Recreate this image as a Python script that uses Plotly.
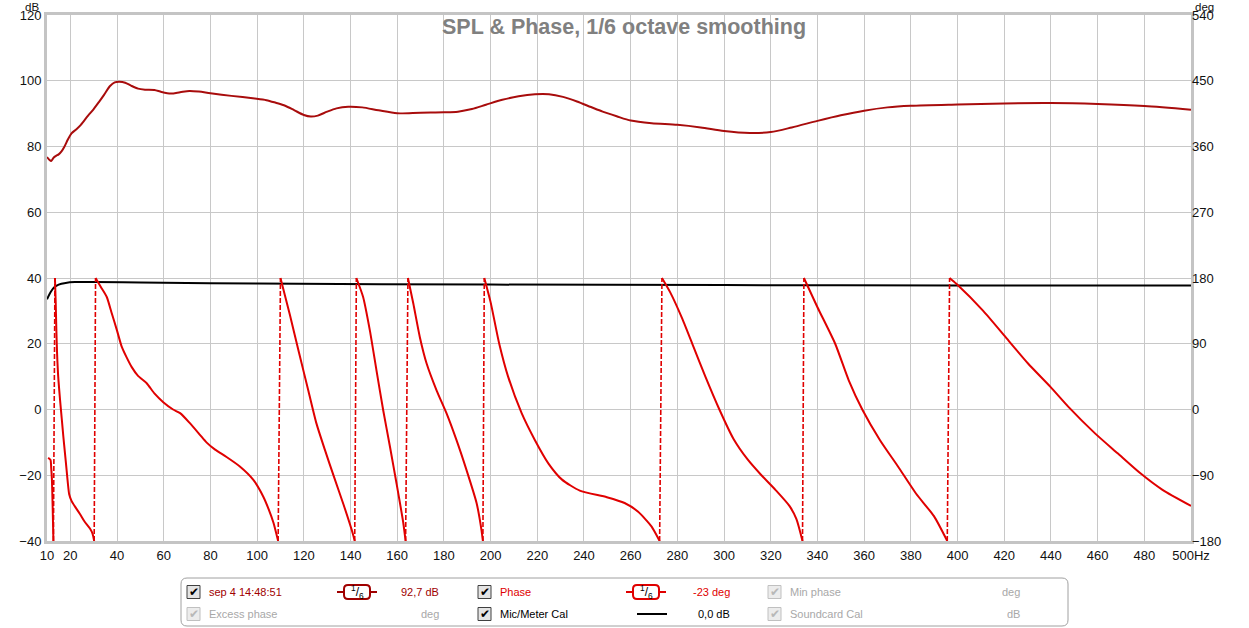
import plotly.graph_objects as go

# ---------------- data ----------------
spl_freq = [10, 11, 11.8, 12.8, 14, 15, 16.3, 17.5, 19, 20.5, 22.5, 24.5, 27.5, 30, 32.3, 34.5, 37, 39, 41, 43.5,
            46, 49, 52, 56, 59, 63, 67, 71, 75, 80, 89, 99, 104, 108, 112, 116, 120, 123, 126, 130, 134, 139,
            145, 152, 160, 170, 180, 186, 192, 198, 205, 212, 219, 225, 231, 237, 243, 248, 254, 260, 269, 280,
            290, 300, 311, 320, 329, 340, 350, 360, 370, 380, 400, 420, 440, 460, 480, 500]
spl_db = [76.8, 76.0, 75.6, 76.6, 77.2, 77.6, 78.6, 80.0, 82.2, 84.0, 85.2, 86.6, 89.3, 91.4, 93.6, 95.8, 98.4, 99.5,
          99.7, 99.4, 98.5, 97.6, 97.3, 97.2, 96.6, 96.1, 96.5, 96.9, 96.7, 96.2, 95.4, 94.6, 94.1, 93.3, 92.4, 91.0,
          89.6, 89.1, 89.4, 90.6, 91.6, 92.1, 91.9, 91.0, 90.1, 90.3, 90.4, 90.6, 91.4, 92.7, 94.2, 95.3, 95.9, 95.9,
          95.1, 93.7, 92.0, 90.6, 89.2, 87.9, 87.1, 86.6, 85.8, 84.7, 84.1, 84.4, 85.8, 87.8, 89.5, 90.9, 91.9, 92.4,
          92.8, 93.1, 93.2, 92.9, 92.3, 91.2]

# phase (deg), one list per wrapped segment
phase_seg_freq = [
    [10.5, 11.5, 11.8, 12.1, 12.4, 12.75],
    [13.4, 13.7, 14.0, 14.3, 14.8, 15.6, 16.3, 17.0, 17.7, 18.4, 19.0, 19.5, 20.5, 22.0, 24.1, 26.0, 28.4, 29.5, 30.2],
    [30.8, 33, 35.6, 37.8, 39.9, 42, 44, 46.3, 49, 52.7, 56, 59.8, 64, 67, 71, 75.6, 78.3, 82, 86.9, 92.6, 98.3,
     102.6, 105, 107, 109],
    [110, 114, 118, 122, 125.4, 129, 133, 137, 141, 141.8],
    [142.5, 145.4, 148.3, 151.1, 154, 156.9, 159.7, 162.6, 163.6],
    [164.6, 166.9, 169.7, 172.6, 176.9, 181.1, 185.4, 189.7, 194, 196.1, 196.7],
    [197.3, 200, 203.7, 207.5, 213.3, 219, 224.8, 230.6, 238.2, 249.8, 257.4, 263.2, 268.9, 272.4],
    [273.4, 277, 282, 287, 292, 298, 304, 310, 316, 322, 328, 331, 333.6],
    [334.2, 340, 347.6, 353.4, 359.2, 366.8, 374.5, 382.2, 389.9, 395.6],
    [396.6, 399.5, 411, 420.6, 430.2, 439.8, 447.4, 459, 468.6, 478.2, 487.8, 500],
]
phase_seg_deg = [
    [-66, -69, -80, -95, -130, -180],
    [180, 150, 110, 78, 45, 13, -12, -37, -60, -83, -103, -116, -125, -133, -143, -153, -163, -170, -180],
    [180, 168, 154, 131, 109, 86, 72, 58, 46, 36, 22, 10, 0, -5, -18, -35, -45, -55, -65, -78, -96,
     -119, -137, -155, -180],
    [180, 130, 77, 25, -19, -55, -93, -130, -170, -180],
    [180, 154, 108, 54, -1, -51, -101, -155, -180],
    [180, 145, 99, 63, 26, -5, -42, -83, -128, -165, -180],
    [180, 147, 90, 45, -5, -42, -74, -96, -111, -120, -128, -140, -160, -180],
    [180, 160, 125, 85, 45, 0, -40, -68, -90, -110, -132, -150, -180],
    [180, 140, 90, 40, 0, -42, -78, -115, -146, -180],
    [180, 172, 135, 99, 63, 31, 4, -33, -60, -87, -110, -132],
]

mic_freq = [10, 11, 12, 13, 15, 18, 22, 30, 50, 100, 200, 300, 400, 500]
mic_db = [33.5, 35.0, 36.2, 37.1, 38.0, 38.5, 38.75, 38.8, 38.6, 38.3, 38.0, 37.85, 37.75, 37.7]

x_ticks = [10, 20, 40, 60, 80, 100, 120, 140, 160, 180, 200, 220, 240, 260, 280, 300, 320, 340, 360, 380,
           400, 420, 440, 460, 480, 500]
x_ticktext = [str(v) for v in x_ticks[:-1]] + ["500Hz"]
db_ticks = [-40, -20, 0, 20, 40, 60, 80, 100, 120]
deg_ticks = [-180, -90, 0, 90, 180, 270, 360, 450, 540]

title_text = "SPL & Phase, 1/6 octave smoothing"

# ---------------- colours / layout constants ----------------
SPL_COL = "#a80c0c"
PH_COL = "#e00000"
GRID = "#c8c8c8"
FRAME = "#c4c4c4"
FONT = "Liberation Sans, Arial, sans-serif"

W, H = 1249, 628
ML, MT = 47, 15
PLOT_R, PLOT_B = 1191, 541
MR, MB = W - PLOT_R, H - PLOT_B
PW, PH = W - ML - MR, H - MT - MB


def px(x):
    return (x - ML) / PW


def py(y):
    return (H - MB - y) / PH


fig = go.Figure()

# phase segments + wrap lines
ph_x, ph_y = [], []
for f, d in zip(phase_seg_freq, phase_seg_deg):
    ph_x += f + [None]
    ph_y += d + [None]
wrap_x, wrap_y = [], []
for i in range(len(phase_seg_freq) - 1):
    wrap_x += [phase_seg_freq[i][-1], phase_seg_freq[i + 1][0], None]
    wrap_y += [phase_seg_deg[i][-1], phase_seg_deg[i + 1][0], None]

fig.add_trace(go.Scatter(x=wrap_x, y=wrap_y, mode="lines", yaxis="y2",
                         line=dict(color=PH_COL, width=1.6, dash="5px,2px"), hoverinfo="skip"))
fig.add_trace(go.Scatter(x=mic_freq, y=mic_db, mode="lines", yaxis="y",
                         line=dict(color="black", width=2, shape="spline", smoothing=0.8)))
fig.add_trace(go.Scatter(x=ph_x, y=ph_y, mode="lines", yaxis="y2",
                         line=dict(color=PH_COL, width=2, shape="spline", smoothing=0.6)))
fig.add_trace(go.Scatter(x=spl_freq, y=spl_db, mode="lines", yaxis="y",
                         line=dict(color=SPL_COL, width=2, shape="spline", smoothing=0.8)))

tickfont = dict(family=FONT, size=13, color="#111")
fig.update_layout(
    xaxis=dict(range=[10, 500], tickvals=x_ticks, ticktext=x_ticktext, showgrid=True, gridcolor=GRID,
               gridwidth=1, zeroline=False, showline=True, linecolor=FRAME, linewidth=3, mirror=True,
               ticks="", automargin=False, tickfont=tickfont, domain=[0, 1], ticklabeloverflow="allow"),
    yaxis=dict(range=[-40, 120], tickvals=db_ticks, showgrid=True, gridcolor=GRID, gridwidth=1,
               zeroline=False, showline=True, linecolor=FRAME, linewidth=3, mirror=True, automargin=False,
               ticks="", tickfont=tickfont, ticklabeloverflow="allow"),
    yaxis2=dict(range=[-180, 540], tickvals=deg_ticks, showgrid=False, zeroline=False, showline=False,
                overlaying="y", side="right", ticks="", automargin=False, tickfont=tickfont,
                ticklabeloverflow="allow"),
)

shapes = []
annotations = []

# title + axis unit labels
annotations.append(dict(text="<b>" + title_text + "</b>", xref="paper", yref="paper", x=px(624), y=py(27),
                        xanchor="center", yanchor="middle", showarrow=False,
                        font=dict(family=FONT, size=21.5, color="#808080")))
annotations.append(dict(text="dB", xref="paper", yref="paper", x=px(32), y=py(-1), xanchor="center",
                        yanchor="top", showarrow=False, font=dict(family=FONT, size=11.5, color="#111")))
annotations.append(dict(text="deg", xref="paper", yref="paper", x=px(1204), y=py(-1), xanchor="center",
                        yanchor="top", showarrow=False, font=dict(family=FONT, size=11.5, color="#111")))


def rounded_rect(x0, y0, x1, y1, r, color, width, fill=None):
    X0, X1 = px(x0), px(x1)
    Y0, Y1 = py(y0), py(y1)
    rx, ry = r / PW, r / PH
    path = (f"M {X0+rx},{Y0} L {X1-rx},{Y0} Q {X1},{Y0} {X1},{Y0-ry} L {X1},{Y1+ry} Q {X1},{Y1} {X1-rx},{Y1} "
            f"L {X0+rx},{Y1} Q {X0},{Y1} {X0},{Y1+ry} L {X0},{Y0-ry} Q {X0},{Y0} {X0+rx},{Y0} Z")
    d = dict(type="path", path=path, xref="paper", yref="paper", line=dict(color=color, width=width))
    if fill:
        d["fillcolor"] = fill
    return d


# legend panel
shapes.append(rounded_rect(181, 578, 1068, 626, 6, "#a0a0a0", 1, "white"))


def checkbox(x, y, enabled=True):
    border = "#404040" if enabled else "#c0c0c0"
    fill = "#e4e4e4" if enabled else "#ececec"
    mark = "#000000" if enabled else "#b8b8b8"
    shapes.append(dict(type="rect", xref="paper", yref="paper", x0=px(x), x1=px(x + 13), y0=py(y + 6.5),
                       y1=py(y - 6.5), line=dict(color=border, width=1), fillcolor=fill))
    annotations.append(dict(text="✔", xref="paper", yref="paper", x=px(x + 6.8), y=py(y), xanchor="center",
                            yanchor="middle", showarrow=False,
                            font=dict(family="DejaVu Sans", size=12, color=mark)))


def label(text, x, y, color, anchor="left"):
    annotations.append(dict(text=text, xref="paper", yref="paper", x=px(x), y=py(y), xanchor=anchor,
                            yanchor="middle", showarrow=False, font=dict(family=FONT, size=11, color=color)))


def smooth_icon(cx, y, color):
    shapes.append(dict(type="line", xref="paper", yref="paper", x0=px(cx - 20), x1=px(cx + 20), y0=py(y),
                       y1=py(y), line=dict(color=color, width=2)))
    shapes.append(rounded_rect(cx - 13, y - 7, cx + 13, y + 7, 4, color, 2, "white"))
    annotations.append(dict(text="<sup>1</sup>/<sub>6</sub>", xref="paper", yref="paper", x=px(cx), y=py(y),
                            xanchor="center", yanchor="middle", showarrow=False,
                            font=dict(family=FONT, size=12, color="#000")))


R1, R2 = 592, 614
checkbox(187, R1)
label("sep 4 14:48:51", 207, R1, "#a00000")
smooth_icon(357, R1, "#a00000")
label("92,7 dB", 441, R1, "#a00000", "right")
checkbox(478, R1)
label("Phase", 498, R1, PH_COL)
smooth_icon(646, R1, PH_COL)
label("-23 deg", 732, R1, PH_COL, "right")
checkbox(768, R1, enabled=False)
label("Min phase", 788, R1, "#a8a8a8")
label("deg", 1022, R1, "#a8a8a8", "right")

checkbox(187, R2, enabled=False)
label("Excess phase", 207, R2, "#a8a8a8")
label("deg", 441, R2, "#a8a8a8", "right")
checkbox(478, R2)
label("Mic/Meter Cal", 498, R2, "#000")
shapes.append(dict(type="line", xref="paper", yref="paper", x0=px(637), x1=px(667), y0=py(R2), y1=py(R2),
                   line=dict(color="black", width=2)))
label("0,0 dB", 732, R2, "#000", "right")
checkbox(768, R2, enabled=False)
label("Soundcard Cal", 788, R2, "#a8a8a8")
label("dB", 1022, R2, "#a8a8a8", "right")

fig.update_layout(width=W, height=H, margin=dict(l=ML, r=MR, t=MT, b=MB, autoexpand=False), showlegend=False,
                  plot_bgcolor="white", paper_bgcolor="white", shapes=shapes, annotations=annotations,
                  font=dict(family=FONT))

# remove the default page margin so the 1249x628 figure fills the window exactly
fig.write_html("out.html", config={"displayModeBar": False},
               post_script="document.body.style.margin='0px';")
